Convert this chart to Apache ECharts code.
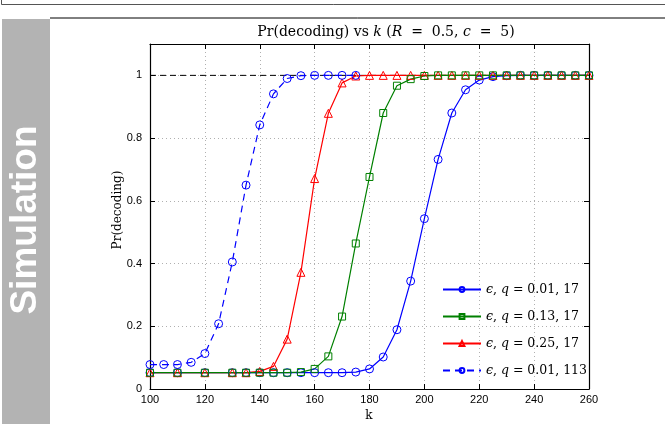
<!DOCTYPE html>
<html>
<head>
<meta charset="utf-8">
<script src="https://cdn.jsdelivr.net/npm/echarts@6/dist/echarts.min.js"></script>
<style>
html,body{margin:0;padding:0;background:#fff;}
#c{width:665px;height:424px;}
</style>
</head>
<body>
<div id="c"></div>
<script>
// ---- data ----
const kSolid = [100,110,120,130,135,140,145,150,155,160,165,170,175,180,185,190,195,200,205,210,215,220,225,230,235,240,245,250,255,260];
const pBlue  = [0.052,0.052,0.052,0.052,0.052,0.052,0.052,0.052,0.052,0.052,0.052,0.052,0.054,0.064,0.102,0.189,0.344,0.543,0.732,0.880,0.954,0.985,0.996,0.999,1,1,1,1,1,1];
const pGreen = [0.052,0.052,0.052,0.052,0.052,0.052,0.052,0.052,0.054,0.064,0.104,0.231,0.464,0.676,0.880,0.967,0.988,0.998,1,1,1,1,1,1,1,1,1,1,1,1];
const pRed   = [0.052,0.052,0.052,0.052,0.052,0.056,0.072,0.159,0.372,0.671,0.879,0.976,0.998,1,1,1,1,1,1,1,1,1,1,1,1,1,1,1,1,1];
const kDash  = [100,105,110,115,120,125,130,135,140,145,150,155,160,165,170,175];
const pDash  = [0.078,0.078,0.078,0.085,0.113,0.208,0.405,0.650,0.842,0.941,0.990,0.999,1,1,1,1];
const xTicks = [100,120,140,160,180,200,220,240,260];
const yTicks = [0,0.2,0.4,0.6,0.8,1];
const seriesNames = ['eq1','eq2','eq3','eq4'];
const legendLabels = {
  eq1: '{i|ϵ}, {i|q} = 0.01, 17',
  eq2: '{i|ϵ}, {i|q} = 0.13, 17',
  eq3: '{i|ϵ}, {i|q} = 0.25, 17',
  eq4: '{i|ϵ}, {i|q} = 0.01, 113'
};

const zip = (a, b) => a.map((v, i) => [v, b[i]]);
const serif = '"DejaVu Serif", "Liberation Serif", serif';
const sans = '"Liberation Sans", Arial, sans-serif';

const chart = echarts.init(document.getElementById('c'), null, {renderer: 'canvas'});

const axisCommon = {
  type: 'value',
  axisLine: {show: true, onZero: false, lineStyle: {color: '#000', width: 1.2}},
  axisTick: {show: true, inside: true, length: 5, lineStyle: {color: '#000'}},
};

function mkSeries(name, data, color, symbol, size, dashed) {
  return {
    name: name, type: 'line', data: data, color: color,
    symbol: symbol, symbolSize: size, showSymbol: true,
    lineStyle: {color: color, width: 1.2, type: dashed ? [7, 5] : 'solid'},
    itemStyle: {color: 'rgba(255,255,255,0)', borderColor: color, borderWidth: 1},
    emphasis: {disabled: true}, animation: false, z: 5
  };
}

const option = {
  animation: false,
  backgroundColor: '#fff',
  grid: {left: 150, right: 76, top: 44, bottom: 35},
  xAxis: [
    Object.assign({}, axisCommon, {
      min: 100, max: 260, interval: 20, position: 'bottom',
      axisLabel: {color: '#000', fontFamily: sans, fontSize: 11, margin: 5},
      splitLine: {show: true, lineStyle: {color: '#b0b0b0', type: [1, 3], width: 1}}
    }),
    Object.assign({}, axisCommon, {
      min: 100, max: 260, interval: 20, position: 'top',
      axisLabel: {show: false}, splitLine: {show: false}
    })
  ],
  yAxis: [
    Object.assign({}, axisCommon, {
      min: 0, max: 1.1, interval: 0.2, position: 'left',
      axisLabel: {color: '#000', fontFamily: sans, fontSize: 11, margin: 8,
        formatter: v => (yTicks.some(t => Math.abs(t - v) < 1e-6) ? String(+v.toFixed(1)) : '')},
      splitLine: {show: true, lineStyle: {color: '#b0b0b0', type: [1, 3], width: 1}}
    }),
    Object.assign({}, axisCommon, {
      min: 0, max: 1.1, interval: 0.2, position: 'right',
      axisLabel: {show: false}, splitLine: {show: false}
    })
  ],
  legend: {
    data: seriesNames,
    orient: 'vertical', left: 437, top: 278,
    itemWidth: 38, itemHeight: 6, itemGap: 14,
    lineStyle: {width: 2},
    backgroundColor: 'rgba(0,0,0,0)',
    formatter: n => legendLabels[n],
    textStyle: {
      color: '#000', fontFamily: serif, fontSize: 12.5,
      rich: {i: {fontStyle: 'italic', fontFamily: serif, fontSize: 12.5, color: '#000'}}
    },
    selectedMode: false
  },
  series: [
    {
      name: 'ref', type: 'line', data: [[100, 1], [260, 1]], symbol: 'none',
      lineStyle: {color: '#000', width: 1, type: [6, 4]}, z: 2, silent: true
    },
    mkSeries('eq1', zip(kSolid, pBlue), '#0000ff', 'circle', 8, false),
    mkSeries('eq3', zip(kSolid, pRed), '#ff0000', 'triangle', 8, false),
    mkSeries('eq2', zip(kSolid, pGreen), '#008000', 'rect', 7, false),
    mkSeries('eq4', zip(kDash, pDash), '#0000ff', 'circle', 8, true)
  ],
  graphic: [
    {type: 'rect', shape: {x: 2, y: 19, width: 48, height: 405}, style: {fill: '#b3b3b3'}, silent: true},
    {type: 'line', shape: {x1: 50, y1: 18, x2: 665, y2: 18}, style: {stroke: '#000', lineWidth: 1}},
    {type: 'line', shape: {x1: 1.5, y1: 4.5, x2: 665, y2: 4.5}, style: {stroke: '#555', lineWidth: 1}},
    {type: 'line', shape: {x1: 1.5, y1: 0, x2: 1.5, y2: 4.5}, style: {stroke: '#555', lineWidth: 1}},
    {type: 'text', x: 26, y: 220, rotation: Math.PI / 2,
      style: {text: 'Simulation', fill: '#fff', font: 'bold 37px ' + sans, textAlign: 'center', textVerticalAlign: 'middle'}},
    {type: 'text', x: 386, y: 32,
      style: {text: 'Pr(decoding) vs {i|k} ({i|R}  =  0.5, {i|c}  =  5)', fill: '#000', font: '14px ' + serif,
        textAlign: 'center', textVerticalAlign: 'middle',
        rich: {i: {fontStyle: 'italic', fontFamily: serif, fontSize: 14}}}},
    {type: 'text', x: 118, y: 210, rotation: Math.PI / 2,
      style: {text: 'Pr(decoding)', fill: '#000', font: '12px ' + serif, textAlign: 'center', textVerticalAlign: 'middle'}},
    {type: 'text', x: 369, y: 416,
      style: {text: 'k', fill: '#000', font: '12px ' + serif, textAlign: 'center', textVerticalAlign: 'middle'}}
  ]
};
chart.setOption(option);
</script>
</body>
</html>
